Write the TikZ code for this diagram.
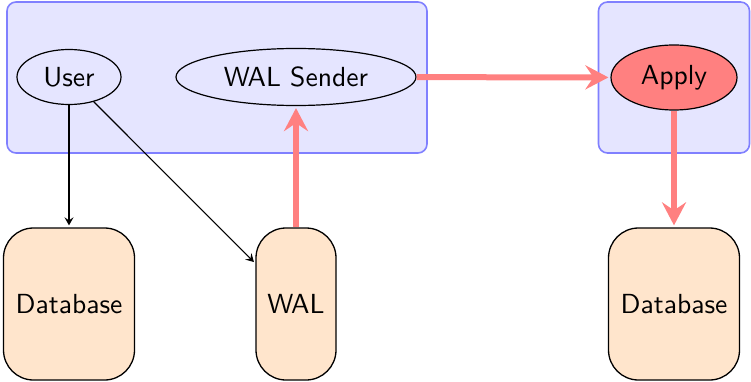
\documentclass[tikz,border=0pt]{standalone}
\usepackage{graphicx}
\usetikzlibrary{shapes.geometric,arrows.meta}
\newcommand{\bt}[1]{\scalebox{2.76}{\sffamily\fontsize{10}{12}\selectfont #1}}
\begin{document}
\begin{tikzpicture}[x=1pt,y=-1pt,
  groupbox/.style={draw=blue!50, fill=blue!10, line width=1.6pt, rounded corners=9pt, inner sep=0pt},
  proc/.style={ellipse, draw=black, line width=1.2pt, inner sep=0pt},
  store/.style={draw=black, fill=orange!20, line width=1.3pt, rounded corners=30pt, inner sep=0pt},
  thinarrow/.style={draw=black, line width=1.1pt, -{Stealth[length=8pt,width=9pt,inset=3pt]}, shorten >=2pt},
  flow/.style={draw=red!50, line width=6pt, -{Stealth[length=23pt,width=24pt,inset=8pt]}, shorten >=2pt}
]
\useasboundingbox (0,0) rectangle (751,382);
\node[groupbox, minimum width=420pt, minimum height=151pt] (g1) at (217,77.5) {};
\node[groupbox, minimum width=151pt, minimum height=151pt] (g2) at (674,77.5) {};
\node[proc, minimum width=104pt, minimum height=55pt] (user) at (69,77) {\bt{User}};
\node[proc, minimum width=240pt, minimum height=57pt] (sender) at (296,77) {\bt{WAL Sender}};
\node[proc, fill=red!50, minimum width=126pt, minimum height=65pt] (apply) at (674,77.5) {\bt{Apply}};
\node[store, minimum width=131pt, minimum height=152pt] (db1) at (69,304) {\bt{Database}};
\node[store, minimum width=80pt, minimum height=152pt] (wal) at (296,304) {\bt{WAL}};
\node[store, minimum width=131pt, minimum height=152pt] (db2) at (674,304) {\bt{Database}};
\draw[thinarrow] (user) -- (db1);
\draw[thinarrow] (user) -- (wal);
\draw[flow] (wal) -- (sender);
\draw[flow] (sender) -- (apply);
\draw[flow] (apply) -- (db2);
\end{tikzpicture}
\end{document}
